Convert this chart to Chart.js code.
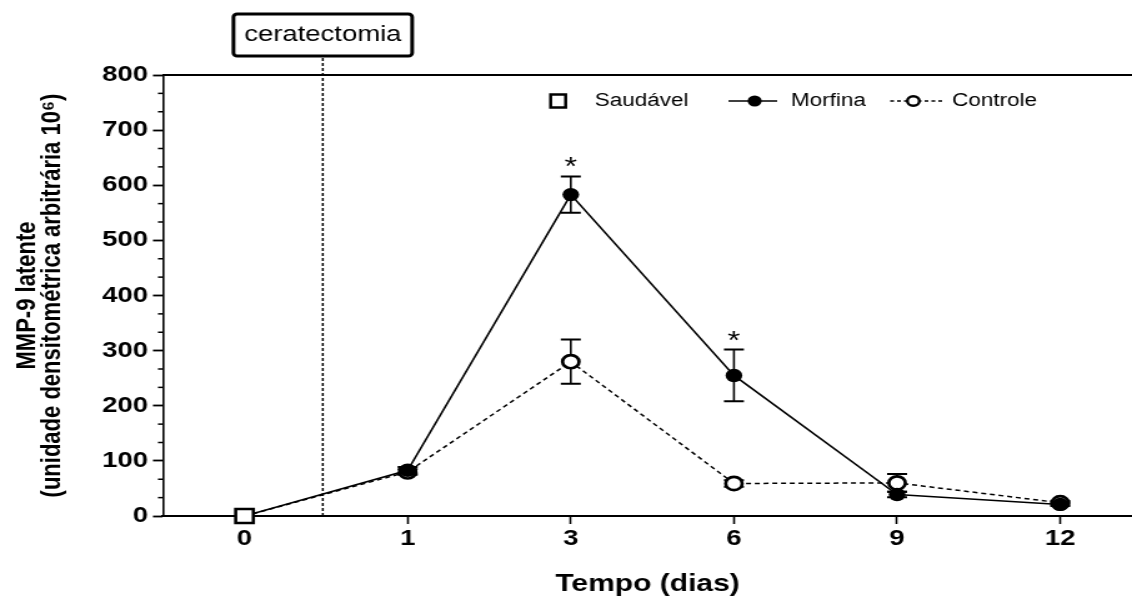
<!DOCTYPE html>
<html>
<head>
<meta charset="utf-8">
<script src="https://cdn.jsdelivr.net/npm/chart.js@4/dist/chart.umd.min.js"></script>
<style>
  html, body { margin: 0; padding: 0; background: #fff; overflow: hidden; }
  /* the 906-px drawing is shown widened to the full page width */
  #c { display: block; width: 1132px; height: 610px; }
</style>
</head>
<body>
<canvas id="c" width="906" height="610" style="width:1132px;height:610px"></canvas>
<script>
// Tempo (dias)
const days = ['0', '1', '3', '6', '9', '12'];
// MMP-9 latente, mean and SEM per day
const saudavel = [0, null, null, null, null, null];
const morfina = [0, 83, 583, 255, 39, 21];
const morfinaSem = [0, 6, 33, 47, 5, 3];
const controle = [0, 80, 280, 59, 60, 24];
const controleSem = [0, 5, 40, 6, 16, 3];
const morfinaSig = ['', '', '*', '*', '', ''];
const yTickValues = [0, 100, 200, 300, 400, 500, 600, 700, 800];
// surgery time, between day 0 and day 1 on the day axis
const ceratectomiaAt = 0.48;

const FONT = '"Liberation Sans", Arial, Helvetica, sans-serif';

const toPoints = arr => arr.map((v, i) => (v === null ? null : { x: i, y: v })).filter(p => p);

// the plot frame runs out to the right edge of the canvas
const fullWidthArea = {
  id: 'fullWidthArea',
  afterLayout(chart) {
    const a = chart.chartArea;
    const x = chart.scales.x;
    a.right = chart.width;
    a.width = a.right - a.left;
    x.right = chart.width;
    x.width = x.right - x.left;
    x.configure();
  }
};

const decor = {
  id: 'decor',
  beforeDatasetsDraw(chart) {
    const { ctx, chartArea: a, scales: { x, y } } = chart;
    ctx.save();
    // top frame line
    ctx.strokeStyle = '#000';
    ctx.lineWidth = 2;
    ctx.beginPath();
    ctx.moveTo(a.left, a.top);
    ctx.lineTo(chart.width, a.top);
    ctx.stroke();
    // minor ticks on the value axis
    ctx.lineWidth = 1.5;
    for (let k = 0; k <= 24; k++) {
      if (k % 3 === 0) continue;
      const py = y.getPixelForValue(k * 100 / 3);
      ctx.beginPath();
      ctx.moveTo(a.left - 4, py);
      ctx.lineTo(a.left, py);
      ctx.stroke();
    }
    // surgery marker line
    const cx = x.getPixelForValue(ceratectomiaAt);
    ctx.setLineDash([3, 2]);
    ctx.lineWidth = 1.5;
    ctx.beginPath();
    ctx.moveTo(cx, 58);
    ctx.lineTo(cx, a.bottom);
    ctx.stroke();
    ctx.setLineDash([]);
    // error bars (SEM)
    const bars = [[morfina, morfinaSem], [controle, controleSem]];
    bars.forEach(([mean, sem]) => {
      mean.forEach((v, i) => {
        const e = sem[i];
        if (v === null || !e) return;
        const px = x.getPixelForValue(i);
        const t = y.getPixelForValue(v + e);
        const b = y.getPixelForValue(v - e);
        ctx.lineWidth = 1.6;
        ctx.beginPath();
        ctx.moveTo(px, t);
        ctx.lineTo(px, b);
        ctx.stroke();
        ctx.lineWidth = 2;
        ctx.beginPath();
        ctx.moveTo(px - 8, t); ctx.lineTo(px + 8, t);
        ctx.moveTo(px - 8, b); ctx.lineTo(px + 8, b);
        ctx.stroke();
      });
    });
    ctx.restore();
  },
  afterDatasetsDraw(chart) {
    const { ctx, scales: { x, y } } = chart;
    ctx.save();
    ctx.fillStyle = '#000';
    ctx.font = '26px ' + FONT;
    ctx.textAlign = 'center';
    ctx.textBaseline = 'alphabetic';
    morfinaSig.forEach((s, i) => {
      if (!s) return;
      const top = y.getPixelForValue(morfina[i] + morfinaSem[i]);
      ctx.fillText(s, x.getPixelForValue(i), top - 1);
    });
    ctx.restore();
  },
  afterDraw(chart) {
    const { ctx, scales: { x } } = chart;
    ctx.save();
    ctx.strokeStyle = '#000';
    ctx.fillStyle = '#000';
    // surgery label box
    const cx = x.getPixelForValue(ceratectomiaAt);
    const bw = 143, bh = 42, bt = 14;
    ctx.lineWidth = 3;
    ctx.beginPath();
    ctx.roundRect(cx - bw / 2, bt, bw, bh, 3);
    ctx.fillStyle = '#fff';
    ctx.fill();
    ctx.stroke();
    ctx.fillStyle = '#000';
    ctx.font = '22px ' + FONT;
    ctx.textAlign = 'center';
    ctx.textBaseline = 'middle';
    ctx.fillText('ceratectomia', cx, bt + bh / 2);

    // legend
    const ly = 101;
    ctx.font = '18px ' + FONT;
    ctx.textAlign = 'left';
    ctx.textBaseline = 'middle';
    // Saudável
    ctx.lineWidth = 2.5;
    ctx.fillStyle = '#fff';
    ctx.fillRect(446.7 - 6, ly - 6.5, 12, 13);
    ctx.strokeRect(446.7 - 6, ly - 6.5, 12, 13);
    ctx.fillStyle = '#000';
    ctx.fillText('Saudável', 476, ly);
    // Morfina
    ctx.lineWidth = 1.6;
    ctx.beginPath();
    ctx.moveTo(583, ly); ctx.lineTo(622, ly);
    ctx.stroke();
    ctx.beginPath();
    ctx.arc(604, ly, 5.6, 0, Math.PI * 2);
    ctx.fill();
    ctx.fillText('Morfina', 633, ly);
    // Controle
    ctx.setLineDash([3, 2.5]);
    ctx.lineWidth = 1.5;
    ctx.beginPath();
    ctx.moveTo(712.5, ly); ctx.lineTo(754, ly);
    ctx.stroke();
    ctx.setLineDash([]);
    ctx.beginPath();
    ctx.arc(731, ly, 4.8, 0, Math.PI * 2);
    ctx.fillStyle = '#fff';
    ctx.fill();
    ctx.lineWidth = 2.4;
    ctx.stroke();
    ctx.fillStyle = '#000';
    ctx.fillText('Controle', 762, ly);
    ctx.restore();
  }
};

const hideFirst = r => ctx => (ctx.dataIndex === 0 ? 0 : r);

new Chart(document.getElementById('c'), {
  type: 'line',
  data: {
    datasets: [
      {
        label: 'Saudável',
        data: toPoints(saudavel),
        showLine: false,
        pointStyle: 'rect',
        pointRadius: 10,
        pointBorderWidth: 2.6,
        borderColor: '#000',
        pointBorderColor: '#000',
        pointBackgroundColor: '#fff',
        order: 0,
        clip: false
      },
      {
        label: 'Morfina',
        data: toPoints(morfina),
        borderColor: '#000',
        borderWidth: 1.6,
        pointStyle: 'circle',
        pointRadius: hideFirst(6.7),
        pointBorderWidth: 0,
        pointBackgroundColor: '#000',
        pointBorderColor: '#000',
        tension: 0,
        order: 1,
        clip: false
      },
      {
        label: 'Controle',
        data: toPoints(controle),
        borderColor: '#000',
        borderWidth: 1.5,
        borderDash: [4, 3],
        pointStyle: 'circle',
        pointRadius: hideFirst(6.6),
        pointBorderWidth: 2.7,
        pointBackgroundColor: '#fff',
        pointBorderColor: '#000',
        tension: 0,
        order: 2,
        clip: false
      }
    ]
  },
  options: {
    responsive: false,
    devicePixelRatio: 1,
    animation: false,
    events: [],
    layout: { padding: { top: 75, left: 0, right: 0, bottom: 0 } },
    plugins: { legend: { display: false }, tooltip: { enabled: false } },
    scales: {
      x: {
        type: 'linear',
        min: -0.5,
        max: 5.44,
        afterBuildTicks: s => { s.ticks = days.map((_, i) => ({ value: i })); },
        afterFit: s => { s.height = 94; },
        ticks: {
          autoSkip: false,
          maxRotation: 0,
          padding: 2,
          color: '#000',
          font: { family: FONT, size: 22, weight: 'bold' },
          callback: v => days[v]
        },
        grid: { display: true, drawOnChartArea: false, drawTicks: true, tickLength: 8, tickWidth: 1.6, tickColor: '#000' },
        border: { display: true, color: '#000', width: 2 },
        title: {
          display: true,
          text: 'Tempo (dias)',
          color: '#000',
          font: { family: FONT, size: 24, weight: 'bold' },
          padding: { top: 0, bottom: 11 }
        }
      },
      y: {
        min: 0,
        max: 800,
        afterBuildTicks: s => { s.ticks = yTickValues.map(v => ({ value: v })); },
        afterFit: s => { s.width = 130.4; },
        ticks: {
          padding: 4,
          color: '#000',
          font: { family: FONT, size: 22, weight: 'bold' }
        },
        grid: { display: true, drawOnChartArea: false, drawTicks: true, tickLength: 8, tickWidth: 1.8, tickColor: '#000' },
        border: { display: true, color: '#000', width: 1.6 },
        title: {
          display: true,
          text: ['MMP-9 latente', '(unidade densitométrica arbitrária 10⁶)'],
          color: '#000',
          font: { family: FONT, size: 22, weight: 'bold', lineHeight: 0.927 },
          padding: { top: 11.8, bottom: 0 }
        }
      }
    }
  },
  plugins: [fullWidthArea, decor]
});
</script>
</body>
</html>
